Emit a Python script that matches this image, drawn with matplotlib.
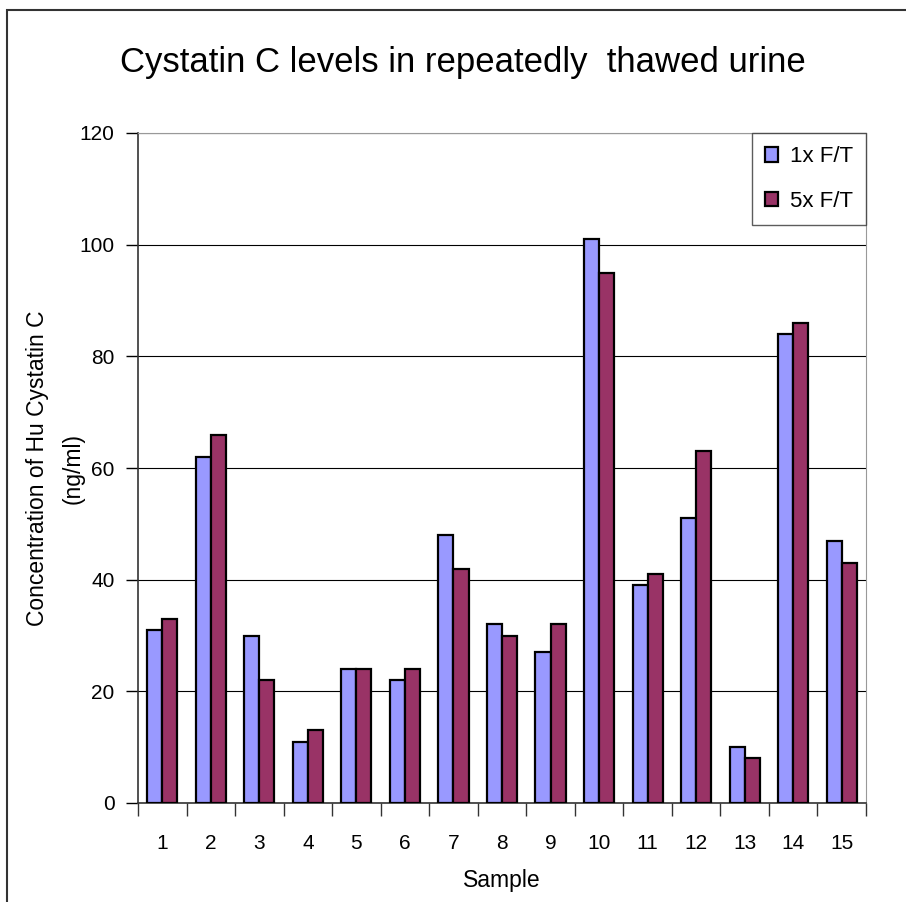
import numpy as np
import matplotlib.pyplot as plt
from matplotlib.patches import Rectangle

samples = [str(i) for i in range(1, 16)]
ft1 = [31, 62, 30, 11, 24, 22, 48, 32, 27, 101, 39, 51, 10, 84, 47]
ft5 = [33, 66, 22, 13, 24, 24, 42, 30, 32, 95, 41, 63, 8, 86, 43]

plt.rcParams['font.family'] = ['Liberation Sans', 'DejaVu Sans']

fig = plt.figure(figsize=(9.06, 9.02), dpi=100)
ax = fig.add_axes([138 / 906, 1 - 803 / 902, 728 / 906, 670 / 902])

# outer chart frame (cut off at right/bottom like the original)
fig.patches.append(Rectangle((7 / 906, -0.01), 1.0, 1 - 10 / 902 + 0.01,
                             transform=fig.transFigure, fill=False,
                             edgecolor='#333333', lw=1.5))

x = np.arange(len(samples))
w = 0.31
ax.bar(x - w / 2, ft1, w, color='#9999FF', edgecolor='black', lw=1.6,
       label='1x F/T', zorder=3)
ax.bar(x + w / 2, ft5, w, color='#993366', edgecolor='black', lw=1.6,
       label='5x F/T', zorder=3)

ax.set_xlim(-0.5, len(samples) - 0.5)
ax.set_ylim(0, 120)
ax.set_yticks(np.arange(0, 121, 20))
ax.yaxis.grid(True, color='black', lw=0.8, zorder=0)
ax.set_xticks(x)
ax.set_xticklabels(samples)
ax.set_xticks(np.arange(-0.5, len(samples), 1), minor=True)
ax.tick_params(axis='x', which='major', length=0, pad=22, labelsize=15)
ax.tick_params(axis='x', which='minor', length=9, width=1, color='#333333')
ax.tick_params(axis='y', length=9, width=1, labelsize=15, pad=8)

for s in ['top', 'right']:
    ax.spines[s].set_color('#999999')
for s in ['left', 'bottom']:
    ax.spines[s].set_color('#333333')
    ax.spines[s].set_linewidth(1.2)

ax.set_xlabel('Sample', fontsize=16.5)
ax.xaxis.set_label_coords(0.5, -0.098)
ax.set_ylabel('Concentration of Hu Cystatin C\n(ng/ml)', fontsize=16.5,
              linespacing=1.65)
ax.yaxis.set_label_coords(-0.074, 0.5)

fig.text(0.511, 0.931, 'Cystatin C levels in repeatedly  thawed urine',
         ha='center', va='center', fontsize=25)

leg = ax.legend(loc='upper right', bbox_to_anchor=(1.0, 1.0), fontsize=16,
                frameon=True, fancybox=False, borderpad=0.6,
                labelspacing=1.05, handlelength=0.6, handleheight=0.6,
                handletextpad=0.5, borderaxespad=0.0)
leg.get_frame().set_edgecolor('#333333')
leg.get_frame().set_linewidth(1.0)

fig.savefig('out.png', dpi=100)
